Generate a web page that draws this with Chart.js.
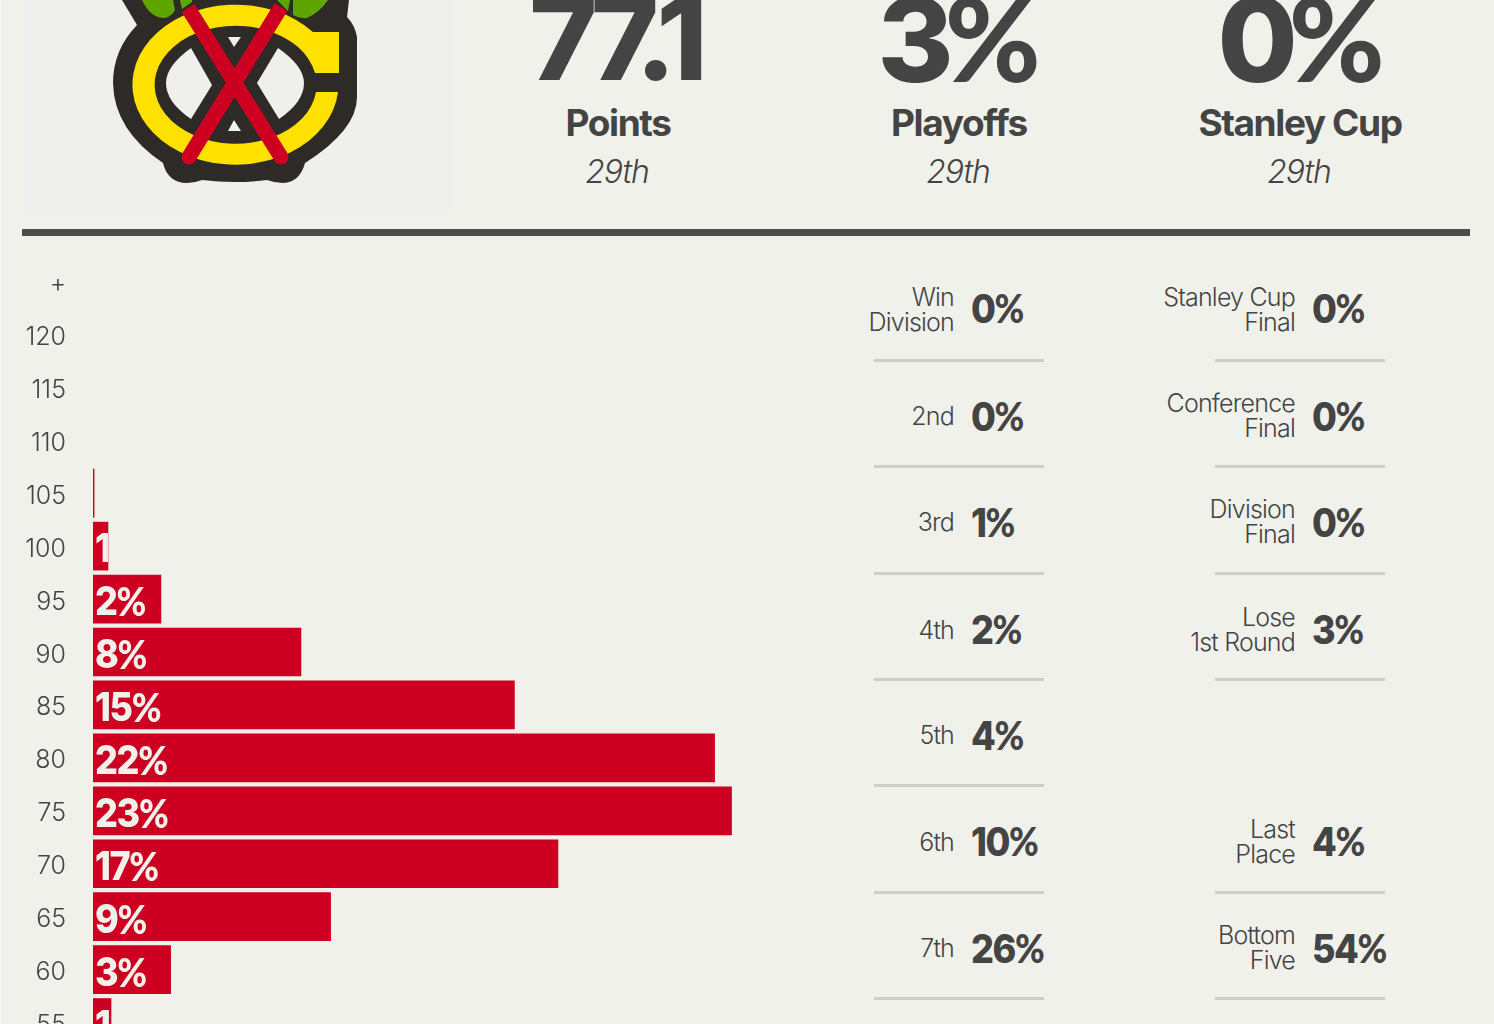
<!DOCTYPE html>
<html>
<head>
<meta charset="utf-8">
<title>Chicago Blackhawks projection</title>
<script src="https://cdn.jsdelivr.net/npm/chart.js@4"></script>
<style>
  html, body { margin: 0; padding: 0; }
  body { width: 1494px; height: 1024px; overflow: hidden; position: relative; background: #f1f1eb; color: #444; font-family: Inter, sans-serif; }
  #edge { position: absolute; left: 0; top: 0; width: 1px; height: 1024px; background: #fafafa; }
  #logo-box { position: absolute; left: 22px; top: 0; width: 430px; height: 212px; background: #efefed; }
  #logo { position: absolute; left: 0; top: 0; }
  #rule { position: absolute; left: 22px; top: 229px; width: 1448px; height: 7px; background: #4d4d4b; }
  .pct { font-family: Lato, sans-serif; font-weight: 900; letter-spacing: 0; }
  .head { position: absolute; width: 340px; text-align: center; }
  .head .big { position: absolute; left: 0; width: 100%; top: -27px; font-size: 116px; line-height: 130px; font-weight: 800; letter-spacing: -9px; }
  .head .name { position: absolute; left: 0; width: 100%; top: 100px; font-size: 37px; line-height: 46px; font-weight: 700; letter-spacing: -1.4px; }
  .head .rank { position: absolute; left: -1px; width: 100%; top: 152px; font-size: 32px; line-height: 40px; font-style: italic; font-weight: 300; letter-spacing: -1px; }
  .lbl { position: absolute; width: 170px; text-align: right; font-size: 25px; line-height: 25px; font-weight: 350; letter-spacing: -.8px; }
  .val { position: absolute; font-size: 40px; line-height: 44px; font-weight: 800; letter-spacing: -1.5px; transform: scaleX(.9); transform-origin: left center; }
  .line { position: absolute; width: 170px; height: 3px; background: #cfcfc9; }
  #wrap { position: absolute; left: 0; top: 255px; width: 800px; height: 794px; }
</style>
</head>
<body>
<div id="edge"></div>
<div id="logo-box"></div>
<svg id="logo" width="460" height="215" viewBox="0 0 460 215">
  <path fill="#2e2a27" d="M122 0 L137 25 Q113 50 113 83 Q114 130 163 163 Q168 183 187 183 Q195 183 202 180 Q235 184 267 180 Q275 183 283 183 Q300 182 305 163 Q357 130 357 97 L357 37 Q355 25 347 17 L349 0 Z"/>
  <path fill="#5fa500" d="M142 0 Q150 18 165 18 Q172 16 175 10 L173 0 Z M180 0 L182 9 L192 2 L192 0 Z M277 0 L288 11 L290 0 Z M293 0 L293 15 Q300 19 307 18 Q320 12 328 0 Z"/>
  <path fill="#ffe100" d="M313 32 L339 32 L339 73 L315 73 A81 59 0 1 0 316 92 L338 92 A103 80 0 1 1 313 32 Z" fill-rule="evenodd"/>
  <path fill="#efefed" d="M191 48 L212 85 L191 119 Q166 102 166 83 Q166 66 191 48 Z M278 48 L257 83 L279 119 Q304 102 304 83 Q304 66 278 48 Z M228 37 L241 37 L234 47 Z M234 120 L228 131 L241 131 Z"/>
  <path stroke="#ce0021" stroke-width="15" fill="none" d="M188 8 L281 157 M281 7 L189 157"/>
  <circle cx="189" cy="157" r="7.5" fill="#ce0021"/>
  <circle cx="281" cy="157" r="7.5" fill="#ce0021"/>
</svg>
<div id="rule"></div>
<div id="top"></div>
<div id="table"></div>
<div id="wrap"><canvas id="hist" width="800" height="794"></canvas></div>

<script>
// histogram
const point_bins = ["+", "120", "115", "110", "105", "100", "95", "90", "85", "80", "75", "70", "65", "60", "55"];
const bin_values = [null, null, null, null, 0.04, 0.54, 2.45, 7.5, 15.2, 22.42, 23.03, 16.77, 8.57, 2.8, 0.65];
const bin_labels = ["", "", "", "", "", "1%", "2%", "8%", "15%", "22%", "23%", "17%", "9%", "3%", "1%"];

// header
const head_values = ["77.1", "3%", "0%"];
const head_names = ["Points", "Playoffs", "Stanley Cup"];
const head_ranks = ["29th", "29th", "29th"];

// finish table
const left_labels = [["Win", "Division"], ["2nd"], ["3rd"], ["4th"], ["5th"], ["6th"], ["7th"]];
const left_values = ["0%", "0%", "1%", "2%", "4%", "10%", "26%"];
const right_labels = [["Stanley Cup", "Final"], ["Conference", "Final"], ["Division", "Final"], ["Lose", "1st Round"], [], ["Last", "Place"], ["Bottom", "Five"]];
const right_values = ["0%", "0%", "0%", "3%", "", "4%", "54%"];

// the percent sign comes from Lato, Inter's is too wide
function pct(text) {
    return text.replace("%", `<span class="pct">%</span>`);
}

const top_box = document.getElementById("top");
const head_x = [448, 789, 1130];
const big_shift = [-4, 0, 1];
top_box.innerHTML = head_values.map((v, i) => `
  <div class="head" style="left:${head_x[i]}px;top:0">
    <div class="big" style="left:${big_shift[i]}px">${pct(v)}</div>
    <div class="name">${head_names[i]}</div>
    <div class="rank">${head_ranks[i]}</div>
  </div>`).join("");

const table = document.getElementById("table");
const row_y = [310, 416, 522, 630, 735, 842, 948];
const value_y = [307, 415, 521, 628, 734, 840, 947];
const line_y = [359, 465, 572, 678, 784, 891, 997];
function addColumn(labels, values, labelRight, valueLeft, lineLeft) {
    let html = "";
    labels.forEach((lines, i) => {
        if (!lines.length) return;
        const top = row_y[i] - lines.length * 12.5;
        html += `<div class="lbl" style="left:${labelRight - 170}px;top:${top}px">${lines.join("<br>")}</div>`;
        html += `<div class="val" style="left:${valueLeft}px;top:${value_y[i] - 21}px">${pct(values[i])}</div>`;
        html += `<div class="line" style="left:${lineLeft}px;top:${line_y[i]}px"></div>`;
    });
    table.innerHTML += html;
}
addColumn(left_labels, left_values, 954, 971, 874);
addColumn(right_labels, right_values, 1295, 1312, 1215);

// bar percent labels, cut off at the end of the bar like the original
const barLabels = {
    id: "barLabels",
    afterDatasetsDraw(chart) {
        const ctx = chart.ctx;
        chart.getDatasetMeta(0).data.forEach((bar, i) => {
            if (!bin_labels[i]) return;
            const digits = bin_labels[i].replace("%", "");
            ctx.save();
            ctx.beginPath();
            ctx.rect(bar.base, bar.y - bar.height / 2, bar.x - bar.base, bar.height);
            ctx.clip();
            ctx.translate(bar.base + 2, bar.y + 4);
            ctx.scale(0.9, 1);
            ctx.fillStyle = "#f1f1eb";
            ctx.textBaseline = "middle";
            ctx.font = "800 40px Inter";
            ctx.letterSpacing = "-1.5px";
            ctx.fillText(digits, 0, 0);
            const digitsWidth = ctx.measureText(digits).width;
            ctx.font = "900 40px Lato";
            ctx.letterSpacing = "0px";
            ctx.fillText("%", digitsWidth, 0);
            ctx.restore();
        });
    }
};

new Chart(document.getElementById("hist"), {
    type: "bar",
    data: {
        labels: point_bins,
        datasets: [{
            data: bin_values,
            backgroundColor: "#ce0021",
            borderWidth: 0,
            barThickness: 48
        }]
    },
    options: {
        indexAxis: "y",
        responsive: false,
        animation: false,
        layout: { padding: 0 },
        plugins: { legend: { display: false }, tooltip: { enabled: false } },
        scales: {
            x: { display: false, min: 0, max: 25.5 },
            y: {
                afterFit(axis) {
                    axis.width = 93;
                    axis.paddingTop = 0;
                    axis.paddingBottom = 0;
                },
                grid: { display: false, drawTicks: false },
                border: { display: false },
                ticks: {
                    color: "#444",
                    padding: 27,
                    labelOffset: 3,
                    autoSkip: false,
                    font: { family: "Inter", size: 25, weight: "350" }
                }
            }
        }
    },
    plugins: [barLabels]
});
</script>
</body>
</html>
